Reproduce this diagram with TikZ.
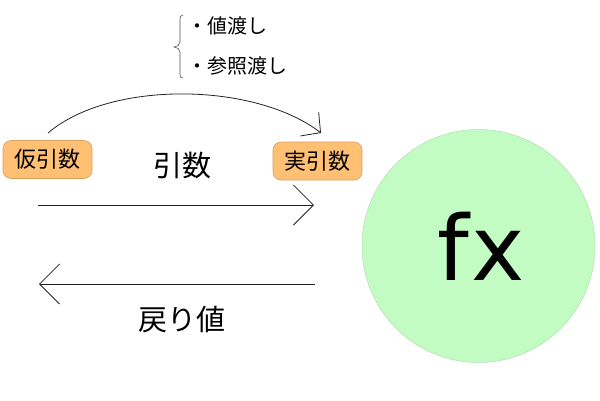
\documentclass[tikz,border=0pt]{standalone}
\usepackage{fontspec}
\setmainfont{Noto Sans CJK JP}
\newfontfamily\fxfont{DejaVu Sans}
\usetikzlibrary{arrows.meta}
\definecolor{boxfill}{HTML}{FFC074}
\definecolor{boxline}{HTML}{D9A060}
\definecolor{circfill}{HTML}{C3FCC3}
\definecolor{circline}{HTML}{B5DDB5}
\definecolor{linec}{HTML}{222222}
\tikzset{
  argbox/.style={draw=boxline, fill=boxfill, rounded corners=8pt, line width=0.6pt,
    minimum width=89pt, minimum height=38pt, inner sep=0pt,
    font=\fontsize{22}{22}\selectfont},
  bigtext/.style={inner sep=0pt, font=\fontsize{29}{29}\selectfont},
  itemtext/.style={inner sep=0pt, anchor=west, font=\fontsize{20}{20}\selectfont},
  conn/.style={draw=linec, line width=0.8pt},
  bigbarb/.style={-{Straight Barb[length=20pt,width=40pt]}},
  smallbarb/.style={-{Straight Barb[length=14pt,width=30pt]}}
}
\begin{document}
\begin{tikzpicture}[x=1pt,y=-1pt]
\useasboundingbox (0,0) rectangle (600,400);
% function circle
\node[circle, draw=circline, fill=circfill, line width=0.5pt, minimum size=233pt, inner sep=0pt] (fn) at (478.5,246) {};
\node[inner sep=0pt, font=\fxfont\fontsize{90}{90}\selectfont] (fx) at (481,246) {f\kern3pt x};
% argument boxes
\node[argbox] (formal) at (47.5,159.5) {仮引数};
\node[argbox] (actual) at (317.5,161) {実引数};
% labels
\node[bigtext] (args) at (182,166) {引数};
\node[bigtext] (ret) at (182,320) {戻り値};
\node[itemtext] (byval) at (187,26) {・値渡し};
\node[itemtext] (byref) at (187,66) {・参照渡し};
% brace
\draw[draw=linec!80, line width=0.6pt] (183,15) .. controls (180,15) and (180,17) .. (180,20)
  -- (180,42) .. controls (180,45) and (177,47) .. (174,47)
  .. controls (177,47) and (180,49) .. (180,52) -- (180,74)
  .. controls (180,77) and (180,78) .. (183,78);
% connectors
\coordinate (cs) at (48,133);
\coordinate (ce) at (321,133);
\draw[conn, smallbarb] (cs) .. controls (110,80) and (255,82) .. (ce);
\coordinate (as) at (38,205);
\coordinate (ae) at (314,205);
\draw[conn, bigbarb] (as) -- (ae);
\coordinate (rs) at (315,284);
\coordinate (re) at (39,284);
\draw[conn, bigbarb] (rs) -- (re);
\end{tikzpicture}
\end{document}
